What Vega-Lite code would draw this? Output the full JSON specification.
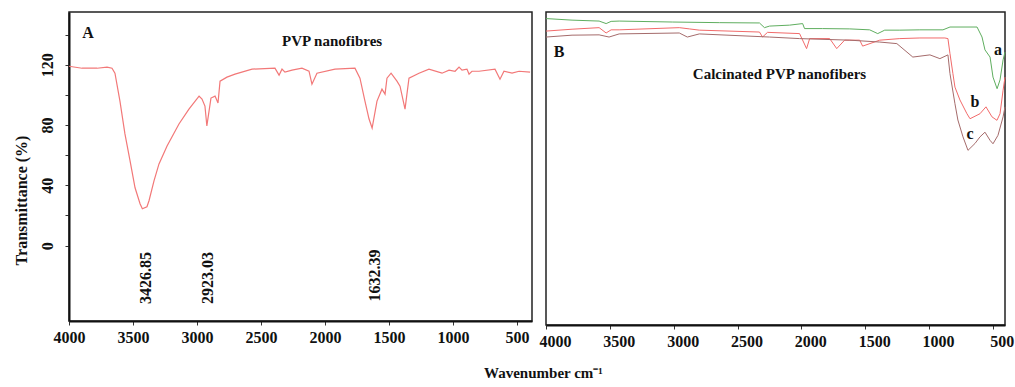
{
  "$schema": "https://vega.github.io/schema/vega-lite/v6.json",
  "padding": {"left": 12, "top": 11, "right": 10, "bottom": 5},
  "background": "white",
  "datasets": {
    "pvp": [
      {"w": 4000, "t": 119.0}, {"w": 3898, "t": 117.7}, {"w": 3781, "t": 117.7}, {"w": 3703, "t": 118.4},
      {"w": 3664, "t": 117.7}, {"w": 3641, "t": 114.4}, {"w": 3602, "t": 95.9}, {"w": 3563, "t": 74.1},
      {"w": 3523, "t": 56.2}, {"w": 3484, "t": 38.4}, {"w": 3445, "t": 27.8}, {"w": 3427, "t": 24.5},
      {"w": 3391, "t": 25.8}, {"w": 3375, "t": 29.8}, {"w": 3336, "t": 43.0}, {"w": 3297, "t": 54.2},
      {"w": 3234, "t": 66.1}, {"w": 3141, "t": 80.7}, {"w": 3063, "t": 90.6}, {"w": 2984, "t": 99.2},
      {"w": 2961, "t": 97.2}, {"w": 2938, "t": 92.6}, {"w": 2923, "t": 79.4}, {"w": 2891, "t": 97.9},
      {"w": 2859, "t": 99.2}, {"w": 2836, "t": 94.6}, {"w": 2820, "t": 109.1}, {"w": 2766, "t": 111.8},
      {"w": 2703, "t": 113.8}, {"w": 2570, "t": 117.1}, {"w": 2391, "t": 117.7}, {"w": 2359, "t": 113.1},
      {"w": 2336, "t": 117.1}, {"w": 2313, "t": 115.1}, {"w": 2258, "t": 116.4}, {"w": 2180, "t": 117.7},
      {"w": 2125, "t": 115.7}, {"w": 2102, "t": 107.1}, {"w": 2063, "t": 114.4}, {"w": 1922, "t": 117.1},
      {"w": 1766, "t": 117.7}, {"w": 1727, "t": 111.1}, {"w": 1688, "t": 95.9}, {"w": 1656, "t": 84.0},
      {"w": 1632, "t": 78.0}, {"w": 1594, "t": 95.9}, {"w": 1555, "t": 103.8}, {"w": 1531, "t": 100.5},
      {"w": 1516, "t": 111.1}, {"w": 1484, "t": 114.4}, {"w": 1438, "t": 109.1}, {"w": 1414, "t": 105.8},
      {"w": 1375, "t": 90.6}, {"w": 1344, "t": 111.1}, {"w": 1266, "t": 114.4}, {"w": 1188, "t": 117.1},
      {"w": 1086, "t": 114.4}, {"w": 1031, "t": 116.4}, {"w": 984, "t": 115.7}, {"w": 953, "t": 118.4},
      {"w": 930, "t": 116.4}, {"w": 891, "t": 117.1}, {"w": 875, "t": 113.8}, {"w": 852, "t": 115.7},
      {"w": 797, "t": 115.7}, {"w": 672, "t": 117.1}, {"w": 633, "t": 110.4}, {"w": 602, "t": 115.7},
      {"w": 539, "t": 114.4}, {"w": 484, "t": 115.7}, {"w": 398, "t": 115.1}
    ],
    "calc": [
      {"s": "a", "w": 4000, "t": 97.9}, {"s": "a", "w": 3796, "t": 97.4}, {"s": "a", "w": 3584, "t": 97.1},
      {"s": "a", "w": 3529, "t": 96.3}, {"s": "a", "w": 3490, "t": 97.0}, {"s": "a", "w": 3427, "t": 97.1},
      {"s": "a", "w": 3011, "t": 96.8}, {"s": "a", "w": 2642, "t": 96.6}, {"s": "a", "w": 2328, "t": 96.5},
      {"s": "a", "w": 2289, "t": 95.0}, {"s": "a", "w": 2249, "t": 95.5}, {"s": "a", "w": 2093, "t": 95.8},
      {"s": "a", "w": 1990, "t": 96.3}, {"s": "a", "w": 1975, "t": 94.7}, {"s": "a", "w": 1833, "t": 94.7},
      {"s": "a", "w": 1621, "t": 94.6}, {"s": "a", "w": 1465, "t": 94.3}, {"s": "a", "w": 1402, "t": 93.1},
      {"s": "a", "w": 1347, "t": 94.2}, {"s": "a", "w": 1229, "t": 94.2}, {"s": "a", "w": 1072, "t": 94.3},
      {"s": "a", "w": 891, "t": 94.3}, {"s": "a", "w": 836, "t": 95.2}, {"s": "a", "w": 624, "t": 95.2},
      {"s": "a", "w": 585, "t": 92.0}, {"s": "a", "w": 562, "t": 87.9}, {"s": "a", "w": 522, "t": 85.6},
      {"s": "a", "w": 499, "t": 79.2}, {"s": "a", "w": 467, "t": 75.5}, {"s": "a", "w": 444, "t": 78.3},
      {"s": "a", "w": 420, "t": 84.7}, {"s": "a", "w": 405, "t": 87.2},
      {"s": "b", "w": 4000, "t": 93.9}, {"s": "b", "w": 3796, "t": 94.5}, {"s": "b", "w": 3584, "t": 95.0},
      {"s": "b", "w": 3529, "t": 93.3}, {"s": "b", "w": 3490, "t": 94.3}, {"s": "b", "w": 3427, "t": 94.3},
      {"s": "b", "w": 2956, "t": 95.0}, {"s": "b", "w": 2877, "t": 94.6}, {"s": "b", "w": 2799, "t": 94.2},
      {"s": "b", "w": 2328, "t": 93.6}, {"s": "b", "w": 2304, "t": 92.0}, {"s": "b", "w": 2265, "t": 93.5},
      {"s": "b", "w": 2014, "t": 93.1}, {"s": "b", "w": 1959, "t": 88.3}, {"s": "b", "w": 1935, "t": 91.5},
      {"s": "b", "w": 1778, "t": 91.5}, {"s": "b", "w": 1723, "t": 88.3}, {"s": "b", "w": 1661, "t": 91.0},
      {"s": "b", "w": 1543, "t": 91.0}, {"s": "b", "w": 1520, "t": 89.1}, {"s": "b", "w": 1386, "t": 91.0},
      {"s": "b", "w": 1229, "t": 91.5}, {"s": "b", "w": 1072, "t": 91.7}, {"s": "b", "w": 876, "t": 91.7},
      {"s": "b", "w": 852, "t": 91.5}, {"s": "b", "w": 836, "t": 86.7}, {"s": "b", "w": 813, "t": 80.3},
      {"s": "b", "w": 797, "t": 76.0}, {"s": "b", "w": 758, "t": 71.9}, {"s": "b", "w": 703, "t": 67.5},
      {"s": "b", "w": 679, "t": 65.9}, {"s": "b", "w": 601, "t": 67.5}, {"s": "b", "w": 554, "t": 69.7},
      {"s": "b", "w": 507, "t": 66.5}, {"s": "b", "w": 468, "t": 65.4}, {"s": "b", "w": 444, "t": 67.5},
      {"s": "b", "w": 420, "t": 75.0}, {"s": "b", "w": 405, "t": 79.2},
      {"s": "c", "w": 4000, "t": 92.0}, {"s": "c", "w": 3796, "t": 92.6}, {"s": "c", "w": 3584, "t": 92.7},
      {"s": "c", "w": 3506, "t": 92.0}, {"s": "c", "w": 3427, "t": 93.0}, {"s": "c", "w": 2956, "t": 93.3},
      {"s": "c", "w": 2893, "t": 92.0}, {"s": "c", "w": 2799, "t": 93.0}, {"s": "c", "w": 2249, "t": 92.0},
      {"s": "c", "w": 2014, "t": 91.5}, {"s": "c", "w": 1621, "t": 91.0}, {"s": "c", "w": 1386, "t": 90.4},
      {"s": "c", "w": 1252, "t": 89.9}, {"s": "c", "w": 1127, "t": 85.6}, {"s": "c", "w": 993, "t": 86.3},
      {"s": "c", "w": 915, "t": 85.1}, {"s": "c", "w": 852, "t": 86.3}, {"s": "c", "w": 836, "t": 80.3},
      {"s": "c", "w": 797, "t": 70.7}, {"s": "c", "w": 774, "t": 65.5}, {"s": "c", "w": 734, "t": 60.1},
      {"s": "c", "w": 695, "t": 55.8}, {"s": "c", "w": 640, "t": 58.0}, {"s": "c", "w": 601, "t": 60.1},
      {"s": "c", "w": 562, "t": 61.6}, {"s": "c", "w": 522, "t": 59.0}, {"s": "c", "w": 499, "t": 57.9},
      {"s": "c", "w": 460, "t": 60.6}, {"s": "c", "w": 420, "t": 66.5}, {"s": "c", "w": 405, "t": 69.7}
    ]
  },
  "title": {
    "text": "Wavenumber cm⁻¹",
    "orient": "bottom",
    "anchor": "middle",
    "offset": 16,
    "dx": 30,
    "font": "Liberation Serif",
    "fontSize": 15,
    "fontWeight": "bold",
    "color": "#111"
  },
  "config": {
    "view": {"stroke": "#222", "strokeWidth": 1.5},
    "concat": {"spacing": 4},
    "axis": {
      "grid": false,
      "domainColor": "#111",
      "domainWidth": 2,
      "tickColor": "#333",
      "tickSize": 4,
      "labelFont": "Liberation Serif",
      "labelFontWeight": "bold",
      "labelFontSize": 16,
      "labelColor": "#111",
      "titleFont": "Liberation Serif",
      "titleFontWeight": "bold",
      "titleFontSize": 16,
      "titleColor": "#111"
    },
    "text": {"font": "Liberation Serif", "fontWeight": "bold", "color": "#111"}
  },
  "hconcat": [
    {
      "width": 463,
      "height": 309,
      "layer": [
        {
          "data": {"name": "pvp"},
          "mark": {"type": "line", "color": "#f27878", "strokeWidth": 1.2},
          "encoding": {
            "x": {
              "field": "w", "type": "quantitative",
              "scale": {"domain": [383, 4000], "reverse": true, "nice": false, "zero": false},
              "axis": {"values": [4000, 3500, 3000, 2500, 2000, 1500, 1000, 500], "format": "d", "labelFlush": false, "labelPadding": 4, "title": null, "labelOverlap": false}
            },
            "y": {
              "field": "t", "type": "quantitative",
              "scale": {"domain": [-50, 155], "nice": false, "zero": false},
              "axis": {
                "values": [0, 20, 40, 60, 80, 100, 120, 140],
                "labelExpr": "datum.value % 40 == 0 ? datum.label : ''",
                "labelAngle": 270, "labelAlign": "center", "labelBaseline": "bottom",
                "labelPadding": 10, "labelOverlap": false,
                "title": "Transmittance (%)",
                "titleAngle": 270, "titleX": -43, "titleY": 188, "titleAlign": "center", "titleBaseline": "alphabetic"
              }
            }
          }
        },
        {
          "data": {"values": [
            {"w": 3852, "t": 141, "label": "A", "size": 16},
            {"w": 1945, "t": 135.6, "label": "PVP nanofibres", "size": 15}
          ]},
          "mark": {"type": "text", "align": "center", "baseline": "middle"},
          "encoding": {
            "x": {"field": "w", "type": "quantitative"},
            "y": {"field": "t", "type": "quantitative"},
            "text": {"field": "label"},
            "size": {"field": "size", "type": "quantitative", "scale": null}
          }
        },
        {
          "data": {"values": [
            {"w": 3398, "t": -21.5, "label": "3426.85"},
            {"w": 2914, "t": -21.5, "label": "2923.03"},
            {"w": 1609, "t": -19.8, "label": "1632.39"}
          ]},
          "mark": {"type": "text", "align": "center", "baseline": "middle", "angle": 270, "fontSize": 16},
          "encoding": {
            "x": {"field": "w", "type": "quantitative"},
            "y": {"field": "t", "type": "quantitative"},
            "text": {"field": "label"}
          }
        }
      ]
    },
    {
      "width": 459,
      "height": 313,
      "layer": [
        {
          "data": {"name": "calc"},
          "mark": {"type": "line", "strokeWidth": 1},
          "encoding": {
            "x": {
              "field": "w", "type": "quantitative",
              "scale": {"domain": [405, 4000], "reverse": true, "nice": false, "zero": false},
              "axis": {"values": [4000, 3500, 3000, 2500, 2000, 1500, 1000, 500], "format": "d", "labelFlush": false, "labelOffset": 9, "labelPadding": 4, "title": null, "labelOverlap": false}
            },
            "y": {
              "field": "t", "type": "quantitative",
              "scale": {"domain": [0, 100], "nice": false, "zero": false},
              "axis": null
            },
            "color": {
              "field": "s", "type": "nominal",
              "scale": {"domain": ["a", "b", "c"], "range": ["#5fae5f", "#f26a6a", "#a56b6b"]},
              "legend": null
            },
            "order": {"field": "w", "type": "quantitative", "sort": "descending"}
          }
        },
        {
          "data": {"values": [
            {"w": 3898, "t": 87.2, "label": "B", "size": 16},
            {"w": 2171, "t": 80.2, "label": "Calcinated PVP nanofibers", "size": 15},
            {"w": 460, "t": 87.9, "label": "a", "size": 16},
            {"w": 640, "t": 71.2, "label": "b", "size": 16},
            {"w": 679, "t": 61, "label": "c", "size": 16}
          ]},
          "mark": {"type": "text", "align": "center", "baseline": "middle"},
          "encoding": {
            "x": {"field": "w", "type": "quantitative"},
            "y": {"field": "t", "type": "quantitative"},
            "text": {"field": "label"},
            "size": {"field": "size", "type": "quantitative", "scale": null}
          }
        }
      ]
    }
  ]
}
